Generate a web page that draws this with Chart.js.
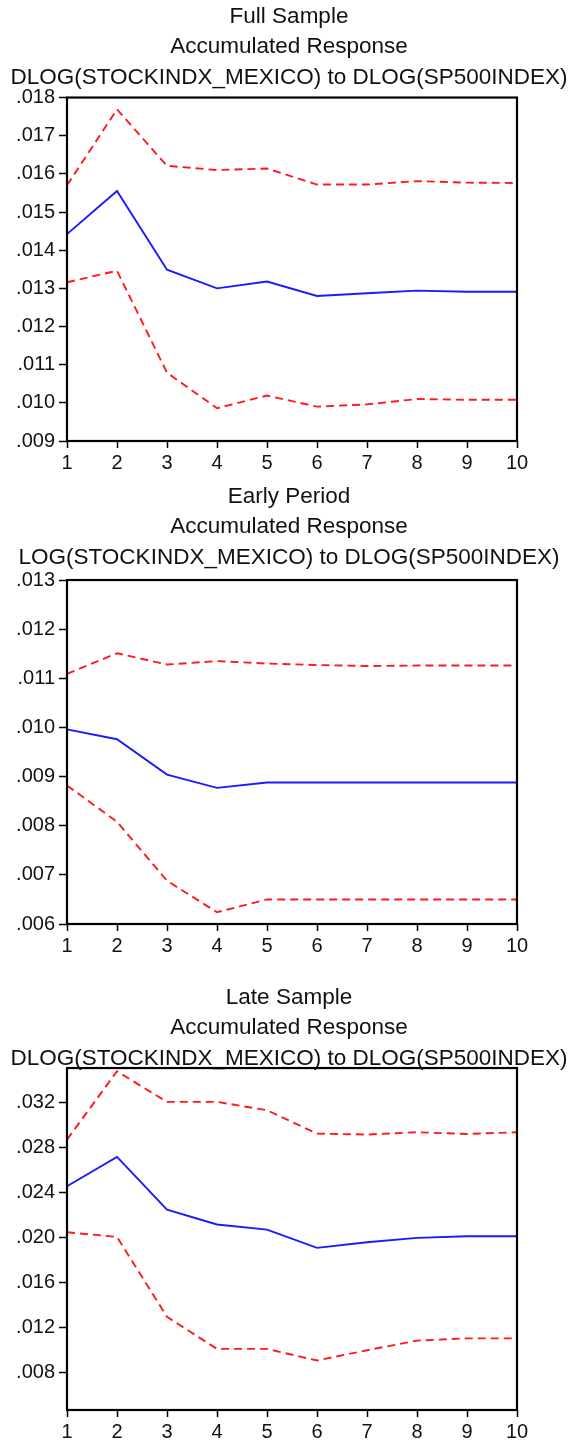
<!DOCTYPE html>
<html><head><meta charset="utf-8">
<script src="https://cdn.jsdelivr.net/npm/chart.js@4.4.1/dist/chart.umd.min.js"></script>
<style>
html,body{margin:0;padding:0;background:#fff;}
body{width:578px;height:1444px;position:relative;overflow:hidden;}
canvas{position:absolute;left:0;}
</style></head><body>
<canvas id="c1" width="578" height="476" style="top:0px"></canvas>
<canvas id="c2" width="578" height="479" style="top:480px"></canvas>
<canvas id="c3" width="578" height="464" style="top:981px"></canvas>
<script>
// ---- data ----
const periods = ['1','2','3','4','5','6','7','8','9','10'];

const fullTitle = ['Full Sample', 'Accumulated Response', 'DLOG(STOCKINDX_MEXICO) to DLOG(SP500INDEX)'];
const fullResponse = [0.01442, 0.01555, 0.01349, 0.01300, 0.01318, 0.01280, 0.01287, 0.01294, 0.01291, 0.01291];
const fullUpper    = [0.01570, 0.01769, 0.01621, 0.01610, 0.01614, 0.01572, 0.01572, 0.01581, 0.01577, 0.01576];
const fullLower    = [0.01316, 0.01346, 0.01079, 0.00986, 0.01019, 0.00990, 0.00996, 0.01010, 0.01008, 0.01008];
const fullTicks    = [0.009, 0.010, 0.011, 0.012, 0.013, 0.014, 0.015, 0.016, 0.017, 0.018];

const earlyTitle = ['Early Period', 'Accumulated Response', 'LOG(STOCKINDX_MEXICO) to DLOG(SP500INDEX)'];
const earlyResponse = [0.00996, 0.00976, 0.00904, 0.00877, 0.00888, 0.00888, 0.00888, 0.00888, 0.00888, 0.00888];
const earlyUpper    = [0.01109, 0.01151, 0.01128, 0.01135, 0.01130, 0.01127, 0.01125, 0.01126, 0.01126, 0.01126];
const earlyLower    = [0.00882, 0.00808, 0.00688, 0.00624, 0.00650, 0.00650, 0.00650, 0.00650, 0.00650, 0.00650];
const earlyTicks    = [0.006, 0.007, 0.008, 0.009, 0.010, 0.011, 0.012, 0.013];

const lateTitle = ['Late Sample', 'Accumulated Response', 'DLOG(STOCKINDX_MEXICO) to DLOG(SP500INDEX)'];
const lateResponse = [0.02459, 0.02720, 0.02252, 0.02119, 0.02074, 0.01911, 0.01961, 0.02000, 0.02015, 0.02015];
const lateUpper    = [0.02874, 0.03481, 0.03209, 0.03209, 0.03135, 0.02927, 0.02919, 0.02939, 0.02924, 0.02939];
const lateLower    = [0.02050, 0.02009, 0.01298, 0.01013, 0.01013, 0.00910, 0.01001, 0.01087, 0.01107, 0.01107];
const lateTicks    = [0.008, 0.012, 0.016, 0.020, 0.024, 0.028, 0.032];
const lateRange    = [0.0047, 0.0351];

// ---- drawing ----
const FONT = "'Liberation Sans', Arial, sans-serif";
const boxPlugin = {
  id: 'box',
  afterDatasetsDraw(chart) {
    const {ctx, chartArea: a} = chart;
    ctx.save();
    ctx.strokeStyle = '#000';
    ctx.lineWidth = 2.2;
    ctx.strokeRect(a.left, a.top, a.right - a.left, a.bottom - a.top);
    ctx.restore();
  }
};

function makeChart(id, title, resp, up, lo, ticks, yMin, yMax, titlePad) {
  const red = {borderColor: '#ff1a1a', borderWidth: 1.9, borderDash: [8, 5], pointRadius: 0, tension: 0, fill: false};
  new Chart(document.getElementById(id), {
    type: 'line',
    data: {
      labels: periods,
      datasets: [
        Object.assign({label: 'Upper', data: up}, red),
        {label: 'Response', data: resp, borderColor: '#1a1aff', borderWidth: 1.9, pointRadius: 0, tension: 0, fill: false},
        Object.assign({label: 'Lower', data: lo}, red)
      ]
    },
    options: {
      responsive: false,
      animation: false,
      events: [],
      layout: {padding: {left: 0, right: 0, top: 0, bottom: 0}},
      plugins: {
        legend: {display: false},
        tooltip: {enabled: false},
        title: {
          display: true,
          text: title,
          color: '#111',
          font: {family: FONT, size: 22.5, weight: 'normal', lineHeight: 1.356},
          padding: titlePad
        }
      },
      scales: {
        x: {
          type: 'category',
          offset: false,
          afterFit(s) { s.height = 35; },
          grid: {display: true, drawOnChartArea: false, drawTicks: true, tickLength: 7, tickColor: '#000', tickWidth: 1.5, offset: false},
          border: {display: false},
          ticks: {color: '#111', font: {family: FONT, size: 20}, padding: 3, maxRotation: 0, autoSkip: false}
        },
        y: {
          type: 'linear',
          position: 'left',
          min: yMin,
          max: yMax,
          afterFit(s) { s.width = 67; },
          afterBuildTicks(s) { s.ticks = ticks.map(v => ({value: v})); },
          grid: {display: true, drawOnChartArea: false, drawTicks: true, tickLength: 8, tickColor: '#000', tickWidth: 1.5},
          border: {display: false},
          ticks: {
            color: '#111', font: {family: FONT, size: 20}, padding: 4,
            callback: v => Number(v).toFixed(3).replace(/^0/, '')
          }
        },
        yRight: {
          type: 'linear',
          position: 'right',
          min: yMin,
          max: yMax,
          afterFit(s) { s.width = 61; },
          grid: {display: false},
          border: {display: false},
          ticks: {display: false}
        }
      }
    },
    plugins: [boxPlugin]
  });
}

makeChart('c1', fullTitle, fullResponse, fullUpper, fullLower, fullTicks, 0.009, 0.018, {top: 1.5, bottom: 4.5});
makeChart('c2', earlyTitle, earlyResponse, earlyUpper, earlyLower, earlyTicks, 0.006, 0.013, {top: 1.5, bottom: 7});
makeChart('c3', lateTitle, lateResponse, lateUpper, lateLower, lateTicks, lateRange[0], lateRange[1], {top: 1.5, bottom: -6});
</script>
</body></html>
